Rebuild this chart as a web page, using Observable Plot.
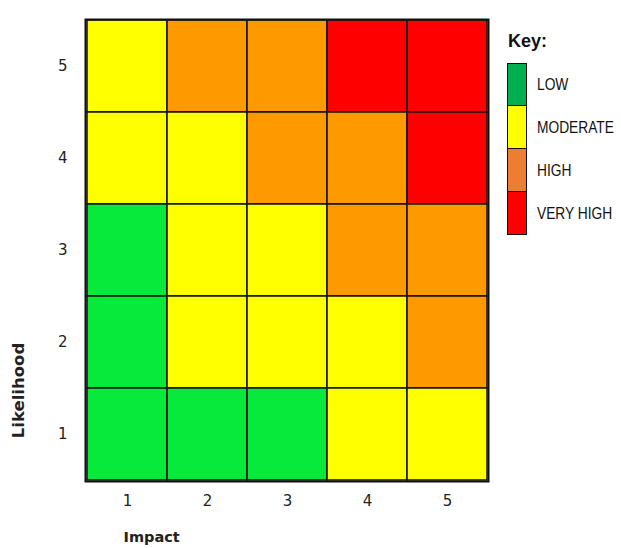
<!DOCTYPE html>
<html>
<head>
<meta charset="utf-8">
<script src="https://cdn.jsdelivr.net/npm/d3@7"></script>
<script src="https://cdn.jsdelivr.net/npm/@observablehq/plot@0.6"></script>
<style>
  html, body { margin: 0; padding: 0; background: #fff; }
  #wrap { position: relative; width: 621px; height: 548px; }
  #legend { position: absolute; left: 507px; top: 31px; font-family: "Liberation Sans", Arial, sans-serif; }
  #legend .title { font-weight: bold; font-size: 18px; margin-left: 1px; height: 32px; color: #111; }
  #legend .row { display: flex; align-items: center; height: 43px; }
  #legend .sw { width: 18px; height: 41px; border: 1px solid #111; box-sizing: content-box; }
  #legend .lbl { margin-left: 10px; font-size: 16px; color: #111; white-space: nowrap; transform: scaleX(0.86); transform-origin: left center; }
</style>
</head>
<body>
<div id="wrap"></div>
<script>
const impact = [1, 2, 3, 4, 5];
const likelihood = [1, 2, 3, 4, 5];
// rating rows from likelihood 5 (top) to 1 (bottom), columns impact 1..5
const ratingRows = [
  ["M", "H", "H", "V", "V"],
  ["M", "M", "H", "H", "V"],
  ["L", "M", "M", "H", "H"],
  ["L", "M", "M", "M", "H"],
  ["L", "L", "L", "M", "M"]
];
const levels = ["L", "M", "H", "V"];
const levelNames = ["LOW", "MODERATE", "HIGH", "VERY HIGH"];
const cellColors = ["#08EA3A", "#FFFF00", "#FF9900", "#FF0000"];
const keyColors = ["#00B050", "#FFFF00", "#ED7D31", "#FF0000"];

const cells = [];
ratingRows.forEach((row, i) => {
  row.forEach((r, j) => {
    cells.push({impact: impact[j], likelihood: likelihood[4 - i], rating: r});
  });
});

const chart = Plot.plot({
  width: 621,
  height: 548,
  marginLeft: 85,
  marginRight: 133,
  marginTop: 19,
  marginBottom: 67,
  style: {fontFamily: "DejaVu Sans, sans-serif", fontSize: "15px", color: "#222", background: "#fff"},
  x: {type: "band", domain: impact, padding: 0, label: null},
  y: {type: "band", domain: likelihood.slice().reverse(), padding: 0, label: null},
  color: {domain: levels, range: cellColors},
  marks: [
    Plot.cell(cells, {x: "impact", y: "likelihood", fill: "rating", stroke: "#111", strokeWidth: 1.5}),
    Plot.frame({stroke: "#111", strokeWidth: 2}),
    Plot.axisX({tickSize: 0, tickPadding: 14, fontSize: 15, fill: "#222"}),
    Plot.axisY({tickSize: 0, tickPadding: 18, fontSize: 15, fill: "#222"}),
    Plot.text(["Impact"], {frameAnchor: "bottom-left", dx: 38, dy: 60, textAnchor: "start", fontWeight: "bold", fontSize: 14.5, fill: "#222", text: d => d}),
    Plot.text(["Likelihood"], {frameAnchor: "bottom-left", dx: -67, dy: -91, rotate: -90, textAnchor: "middle", lineAnchor: "middle", fontWeight: "bold", fontSize: 16.5, fill: "#222", text: d => d})
  ]
});

const wrap = document.getElementById("wrap");
wrap.appendChild(chart);

const legend = document.createElement("div");
legend.id = "legend";
legend.innerHTML = `<div class="title">Key:</div>` + levelNames.map((n, i) =>
  `<div class="row"><div class="sw" style="background:${keyColors[i]};${i>0?'border-top:none;height:42px;':''}"></div><div class="lbl">${n}</div></div>`
).join("");
wrap.appendChild(legend);
</script>
</body>
</html>
